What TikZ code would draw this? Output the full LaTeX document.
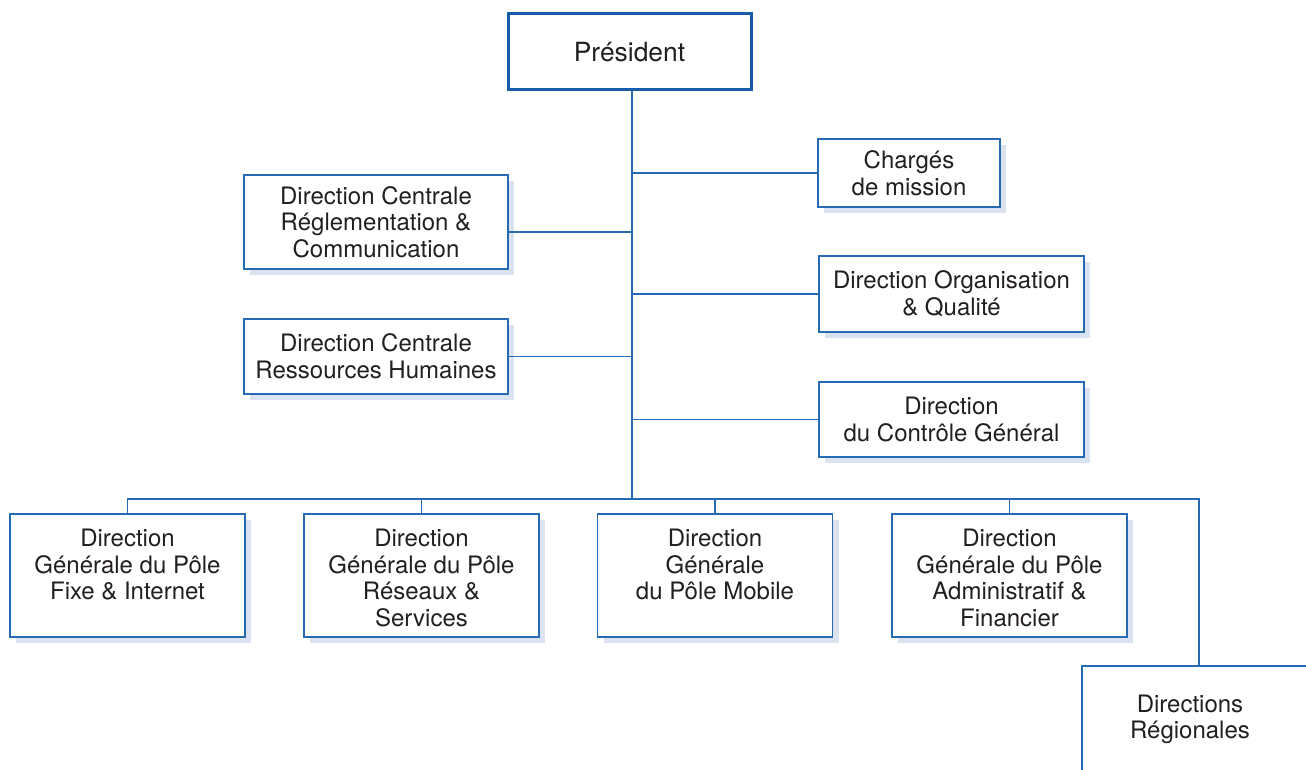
\documentclass[tikz,border=0pt]{standalone}
\usepackage{fontspec}
\setmainfont{TeX Gyre Heros}
\usetikzlibrary{shadows, positioning}

\definecolor{orgblue}{RGB}{38,106,180}
\definecolor{presblue}{RGB}{22,92,168}
\definecolor{shade}{RGB}{220,227,240}
\definecolor{ink}{RGB}{35,31,32}

\tikzset{
    txt/.style={inner sep=0pt, align=center, text=ink, font=\fontsize{12}{13.35}\selectfont},
    box/.style={txt, draw=orgblue, line width=0.8pt, fill=white,
        drop shadow={shadow xshift=3pt, shadow yshift=-3pt, fill=shade, opacity=1}},
    flatbox/.style={draw=orgblue, line width=0.8pt, fill=white, inner sep=0pt},
    link/.style={draw=orgblue, line width=0.75pt}
}

\begin{document}
\begin{tikzpicture}[x=0.5pt, y=-0.5pt]
    \clip (0,0) rectangle (1306,770);

    \coordinate (trunk) at (632,499);
    \coordinate (busend) at (1199,499);

    \node[txt, draw=presblue, line width=1.5pt, fill=white, minimum width=121.5pt, minimum height=38pt,
        font=\fontsize{13.2}{15}\selectfont] (pres) at (629.5,52) {Président};

    \node[box, minimum width=91pt, minimum height=34pt] (charges) at (909,173) {Chargés\\de mission};
    \node[box, minimum width=132pt, minimum height=47pt] (regl) at (376,222)
        {Direction Centrale\\Réglementation \&\\Communication};
    \node[box, minimum width=132pt, minimum height=37.5pt] (rh) at (376,356.5)
        {Direction Centrale\\Ressources Humaines};
    \node[box, minimum width=132.5pt, minimum height=38pt] (orga) at (951.5,294)
        {Direction Organisation\\\& Qualité};
    \node[box, minimum width=132.5pt, minimum height=37.5pt] (ctrl) at (951.5,419.5)
        {Direction\\du Contrôle Général};

    \node[box, minimum width=117.5pt, minimum height=61.5pt, anchor=north] (fixe) at (127.5,513) {};
    \node[box, minimum width=117.5pt, minimum height=61.5pt, anchor=north] (reseaux) at (421.5,513) {};
    \node[box, minimum width=117.5pt, minimum height=61.5pt, anchor=north] (mobile) at (715,513) {};
    \node[box, minimum width=117.5pt, minimum height=61.5pt, anchor=north] (admin) at (1009.5,513) {};
    \node[txt, below=7.75pt of fixe.north] (fixe-t) {Direction\\Générale du Pôle\\Fixe \& Internet};
    \node[txt, below=7.75pt of reseaux.north] (reseaux-t) {Direction\\Générale du Pôle\\Réseaux \&\\Services};
    \node[txt, below=7.75pt of mobile.north] (mobile-t) {Direction\\Générale\\du Pôle Mobile};
    \node[txt, below=7.75pt of admin.north] (admin-t) {Direction\\Générale du Pôle\\Administratif \&\\Financier};

    \node[flatbox, minimum width=125pt, minimum height=70pt, anchor=north west] (regions) at (1081,665) {};
    \node[txt] (regions-t) at (1190,719.5) {Directions\\Régionales};

    \draw[link] (trunk |- pres.south) -- (trunk);
    \draw[link] (charges.west) -- (charges.west -| trunk);
    \draw[link] (orga.west) -- (orga.west -| trunk);
    \draw[link] (ctrl.west) -- (ctrl.west -| trunk);
    \coordinate (rc) at ([yshift=-5pt]regl.east);
    \draw[link] (rc) -- (rc -| trunk);
    \draw[link] (rh.east) -- (rh.east -| trunk);

    \draw[link] (fixe.north) |- (busend) -- (busend |- regions.north);
    \draw[link] (reseaux.north) -- (reseaux.north |- busend);
    \draw[link] (mobile.north) -- (mobile.north |- busend);
    \draw[link] (admin.north) -- (admin.north |- busend);

\end{tikzpicture}
\end{document}
